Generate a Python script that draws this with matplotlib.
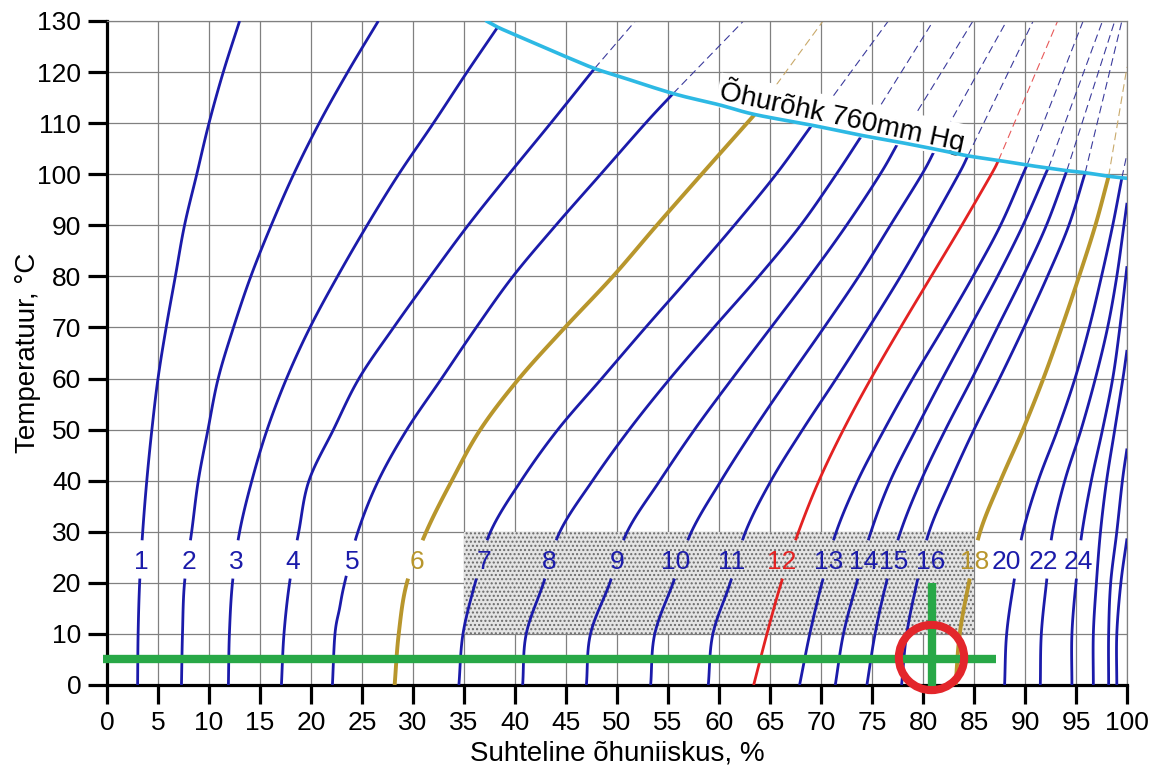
import numpy as np
import matplotlib
matplotlib.use("Agg")
import matplotlib.pyplot as plt
from matplotlib.patches import Rectangle

plt.rcParams['font.family'] = ['Liberation Sans', 'DejaVu Sans']
plt.rcParams['hatch.linewidth'] = 1.0

# ---------------- data ----------------
# equilibrium-moisture curves: temperature (°C) and relative humidity (%)
t_1 = [0, 10, 20, 30, 40, 50, 60, 70, 80, 90, 100, 110, 120, 130]
rh_1 = [3.0, 3.05, 3.2, 3.5, 3.9, 4.4, 5.0, 5.8, 6.7, 7.6, 8.8, 10.0, 11.4, 13.0]
t_2 = [0, 10, 20, 30, 40, 50, 60, 70, 80, 90, 100, 110, 120, 130]
rh_2 = [7.3, 7.4, 7.6, 8.3, 8.95, 9.9, 10.9, 12.4, 14.1, 16.1, 18.3, 20.8, 23.6, 26.6]
t_3 = [0, 10, 20, 30, 40, 50, 60, 70, 80, 90, 100, 110, 120, 128.8]
rh_3 = [11.9, 12.0, 12.3, 13.0, 14.2, 15.7, 17.6, 19.9, 22.6, 25.5, 28.6, 32.0, 35.3, 38.3]
t_4 = [0, 10, 20, 30, 40, 50, 60, 70, 80, 90, 100, 110, 120.7]
rh_4 = [17.1, 17.35, 17.9, 18.8, 19.8, 22.2, 24.7, 28.1, 31.7, 35.4, 39.4, 43.5, 47.8]
t_5 = [0, 10, 15, 20, 30, 40, 50, 60, 70, 80, 90, 100, 110, 115.8]
rh_5 = [22.1, 22.35, 22.8, 23.3, 24.6, 26.6, 29.4, 32.8, 36.2, 39.8, 44.0, 48.4, 52.8, 55.5]
t_6 = [0, 10, 20, 30, 40, 50, 60, 70, 80, 90, 100, 111.7]
rh_6 = [28.2, 28.6, 29.4, 31.3, 33.8, 36.6, 40.4, 44.9, 49.6, 53.9, 58.3, 63.5]
t_7 = [0, 10, 20, 30, 40, 50, 60, 70, 80, 90, 100, 109.6]
rh_7 = [34.5, 34.9, 36.1, 37.6, 40.6, 44.2, 48.5, 52.8, 57.2, 61.5, 65.6, 69.1]
t_8 = [0, 10, 20, 30, 40, 50, 60, 70, 80, 90, 100, 107.6]
rh_8 = [40.75, 41.1, 42.8, 44.4, 47.6, 51.2, 55.2, 59.5, 63.9, 68.0, 71.5, 74.0]
t_9 = [0, 10, 20, 30, 40, 50, 60, 70, 80, 90, 100, 106.3]
rh_9 = [47.0, 47.4, 49.3, 51.0, 54.2, 57.6, 61.3, 65.1, 68.9, 72.5, 75.8, 77.6]
t_10 = [0, 10, 20, 30, 40, 50, 60, 70, 80, 90, 100, 104.9]
rh_10 = [53.3, 53.7, 55.5, 57.3, 60.2, 63.4, 66.8, 70.3, 73.7, 76.8, 79.9, 81.2]
t_11 = [0, 10, 20, 30, 40, 50, 60, 70, 80, 90, 100, 103.6]
rh_11 = [58.95, 59.4, 61.1, 62.6, 65.1, 68.2, 71.5, 74.7, 77.8, 80.7, 83.5, 84.4]
t_12 = [0, 10, 20, 30, 40, 50, 60, 70, 80, 90, 100, 102.7]
rh_12 = [63.4, 64.7, 66.1, 67.8, 69.8, 72.2, 74.9, 77.8, 80.8, 83.8, 86.7, 87.4]
t_13 = [0, 10, 20, 30, 40, 50, 60, 70, 80, 90, 100, 101.8]
rh_13 = [67.9, 68.9, 70.1, 71.5, 73.6, 76.2, 79.0, 82.0, 84.9, 87.6, 89.8, 90.2]
t_14 = [0, 10, 20, 30, 40, 50, 60, 70, 80, 90, 100, 101.2]
rh_14 = [71.4, 72.2, 73.5, 74.9, 76.8, 79.3, 81.9, 84.6, 87.3, 89.8, 92.0, 92.3]
t_15 = [0, 10, 20, 30, 40, 50, 60, 70, 80, 90, 100.7]
rh_15 = [74.5, 75.3, 76.4, 77.8, 79.8, 82.2, 84.8, 87.3, 89.8, 92.1, 94.1]
t_16 = [0, 10, 20, 30, 40, 50, 60, 70, 80, 90, 100.3]
rh_16 = [77.9, 78.4, 79.4, 80.6, 82.7, 85.0, 87.5, 89.9, 92.2, 94.3, 95.9]
t_18 = [0, 10, 20, 30, 40, 50, 60, 70, 80, 90, 99.6]
rh_18 = [83.2, 83.6, 84.5, 85.6, 87.6, 89.8, 91.8, 93.6, 95.3, 96.9, 98.2]
t_20 = [0, 10, 20, 30, 40, 50, 60, 70, 80, 90, 99.3]
rh_20 = [88.0, 88.2, 88.9, 89.8, 91.3, 93.2, 94.9, 96.3, 97.5, 98.6, 99.5]
t_22 = [0, 10, 20, 30, 40, 50, 60, 70, 80, 90, 94.4]
rh_22 = [91.5, 91.6, 92.1, 92.7, 93.9, 95.5, 96.9, 98.1, 99.0, 99.7, 100.0]
t_24 = [0, 10, 20, 30, 40, 50, 60, 70, 82]
rh_24 = [94.6, 94.6, 95.0, 95.6, 96.5, 97.6, 98.6, 99.3, 100.0]
t_26 = [0, 10, 20, 30, 40, 50, 60, 65.6]
rh_26 = [96.7, 96.7, 97.0, 97.4, 98.0, 98.8, 99.6, 100.0]
t_28 = [0, 10, 20, 30, 40, 46.3]
rh_28 = [98.2, 98.2, 98.4, 99.0, 99.55, 100.0]
t_30 = [0, 10, 20, 28.7]
rh_30 = [99.0, 99.0, 99.4, 100.0]

curve_ids = [1, 2, 3, 4, 5, 6, 7, 8, 9, 10, 11, 12, 13, 14, 15, 16, 18, 20, 22, 24, 26, 28, 30]
labelled_ids = [1, 2, 3, 4, 5, 6, 7, 8, 9, 10, 11, 12, 13, 14, 15, 16, 18, 20, 22, 24]

# dashed continuations above the 760 mm Hg boiling line
dash_ids = [4, 5, 6, 7, 8, 9, 10, 11, 12, 13, 14, 15, 16, 18, 20]
dash_rh_start = [47.8, 55.5, 63.5, 69.1, 74.0, 77.6, 81.2, 84.4, 87.4, 90.2, 92.3, 94.1, 95.9, 98.2, 99.5]
dash_t_start = [120.7, 115.8, 111.7, 109.6, 107.6, 106.3, 104.9, 103.6, 102.7, 101.8, 101.2, 100.7, 100.3, 99.6, 99.3]
dash_rh_end = [51.8, 62.4, 70.2, 76.6, 81.0, 84.9, 88.2, 90.8, 93.2, 95.7, 97.6, 98.8, 99.5, 100.0, 100.0]
dash_t_end = [130, 130, 130, 130, 130, 130, 130, 130, 130, 130, 130, 130, 130, 121, 104]

# boiling line at 760 mm Hg
sat_rh = [37.2, 38.3, 40, 45, 47.8, 50, 55.5, 60, 63.5, 69.1, 74.0, 77.6, 81.2, 84.4,
          87.4, 90.2, 92.3, 94.1, 95.9, 98.2, 100]
sat_t = [130, 128.8, 127.3, 123.0, 120.7, 119.3, 115.8, 113.6, 111.7, 109.6, 107.6, 106.3,
         104.9, 103.6, 102.7, 101.8, 101.2, 100.7, 100.3, 99.6, 99.2]

# example reading
ex_t = 5
ex_rh = 80.8

# ---------------- styles / layout ----------------
BLUE = '#1b1baa'
GOLD = '#b8962c'
RED = '#e32222'
colors = {6: GOLD, 18: GOLD, 12: RED}
label_x = {1: 3.4, 2: 8.0, 3: 12.7, 4: 18.2, 5: 24.0, 6: 30.4, 7: 37.0, 8: 43.4, 9: 50.0,
           10: 55.7, 11: 61.2, 12: 66.1, 13: 70.7, 14: 74.2, 15: 77.1, 16: 80.7,
           18: 85.1, 20: 88.2, 22: 91.8, 24: 95.2}
label_y = 24.1
gap_lo, gap_hi = 21.5, 27.8
SX, SY = 10.2, 5.108   # pixel scale, used only to draw smooth strokes through the read points


def smooth_stroke(xs, ys, n=12):
    """Catmull-Rom stroke through the read points (drawing only)."""
    pts = np.column_stack([np.asarray(xs, float) * SX, np.asarray(ys, float) * SY])
    if len(pts) < 3:
        return np.asarray(xs, float), np.asarray(ys, float)
    ext = np.vstack([2 * pts[0] - pts[1], pts, 2 * pts[-1] - pts[-2]])
    out = []
    s = np.linspace(0, 1, n, endpoint=False)[:, None]
    for i in range(1, len(ext) - 2):
        p0, p1, p2, p3 = ext[i - 1:i + 3]
        a = 2 * p1
        b = p2 - p0
        c = 2 * p0 - 5 * p1 + 4 * p2 - p3
        d = -p0 + 3 * p1 - 3 * p2 + p3
        out.append(0.5 * (a + b * s + c * s ** 2 + d * s ** 3))
    out.append(pts[-1:])
    out = np.vstack(out)
    return out[:, 0] / SX, out[:, 1] / SY


fig = plt.figure(figsize=(11.58, 7.69), dpi=100)
fig.patch.set_facecolor('white')
ax = fig.add_axes([107 / 1158, 1 - 685 / 769, 1020 / 1158, 664 / 769])
ax.set_xlim(0, 100)
ax.set_ylim(0, 130)
ax.set_xticks(np.arange(0, 101, 5))
ax.set_yticks(np.arange(0, 131, 10))
ax.grid(True, color='#808080', lw=0.9)
ax.set_axisbelow(True)
for s in ['left', 'bottom']:
    ax.spines[s].set_color('black')
    ax.spines[s].set_linewidth(2.3)
for s in ['top', 'right']:
    ax.spines[s].set_color('#808080')
    ax.spines[s].set_linewidth(0.9)
ax.tick_params(direction='out', length=13.5, width=2.3, labelsize=19, pad=5, colors='black')
ax.set_xlabel('Suhteline õhuniiskus, %', fontsize=20, labelpad=4)
ax.set_ylabel('Temperatuur, °C', fontsize=20, labelpad=-3)

# dotted shaded box
ax.add_patch(Rectangle((35, 10), 50, 20, facecolor='#e4e4e4', edgecolor='#6a6a6a',
                       hatch='....', lw=0, zorder=1.2))

# curves
g = globals()
for cid in curve_ids:
    t = np.array(g['t_%d' % cid], float)
    rh = np.array(g['rh_%d' % cid], float)
    c = colors.get(cid, BLUE)
    lw = 2.8 if c == GOLD else 2.0
    sx, sy = smooth_stroke(rh, t)
    if cid in labelled_ids:
        lo = sy <= gap_lo
        hi = sy >= gap_hi
        ax.plot(sx[lo], sy[lo], color=c, lw=lw, zorder=3, solid_capstyle='butt')
        ax.plot(sx[hi], sy[hi], color=c, lw=lw, zorder=3, solid_capstyle='butt')
        ax.text(label_x[cid], label_y, str(cid), color=c, fontsize=19,
                ha='center', va='center', zorder=5)
    else:
        ax.plot(sx, sy, color=c, lw=lw, zorder=3, solid_capstyle='butt')

dash_colors = {6: '#c9a96a', 18: '#c9a96a', 12: '#e85a5a'}
for i, cid in enumerate(dash_ids):
    ax.plot([dash_rh_start[i], dash_rh_end[i]], [dash_t_start[i], dash_t_end[i]],
            color=dash_colors.get(cid, '#3b3b9c'), lw=0.8, ls=(0, (7, 4)), zorder=2.5)

sx, sy = smooth_stroke(sat_rh, sat_t)
ax.plot(sx, sy, color='#2db9e4', lw=2.6, zorder=6, solid_capstyle='round')
ax.text(59.9, 114.7, 'Õhurõhk 760mm Hg', fontsize=20, rotation=-12, rotation_mode='anchor',
        ha='left', va='baseline', zorder=5.5,
        bbox=dict(facecolor='white', edgecolor='none', pad=1.5))

# example reading (green cross and red circle)
ax.plot([-0.4, 87.2], [ex_t, ex_t], color='#28a847', lw=6, solid_capstyle='butt',
        clip_on=False, zorder=7)
ax.plot([ex_rh + 0.1, ex_rh + 0.1], [-0.3, 20], color='#28a847', lw=6, solid_capstyle='butt',
        clip_on=False, zorder=7)
ax.plot([ex_rh], [ex_t + 0.5], 'o', ms=47, mfc='none', mec='#e3262b', mew=5.8,
        zorder=8, clip_on=False)

fig.savefig('out.png', dpi=100, facecolor='white')
